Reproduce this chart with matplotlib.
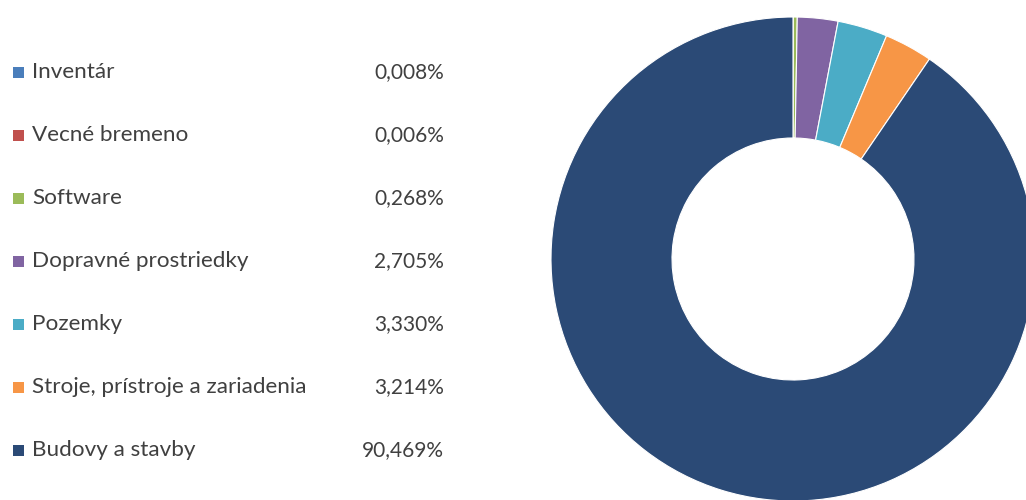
import matplotlib
matplotlib.use("Agg")
import matplotlib.pyplot as plt
from matplotlib.patches import Rectangle

categories = ["Inventár", "Vecné bremeno", "Software", "Dopravné prostriedky",
              "Pozemky", "Stroje, prístroje a zariadenia", "Budovy a stavby"]
values = [0.008, 0.006, 0.268, 2.705, 3.330, 3.214, 90.469]
value_labels = ["0,008%", "0,006%", "0,268%", "2,705%", "3,330%", "3,214%", "90,469%"]
colors = ["#4a7ebb", "#c0504d", "#9bbb59", "#8064a2", "#4bacc6", "#f79646", "#2b4a76"]

W, H = 1026, 500
fig = plt.figure(figsize=(W / 100, H / 100), dpi=100)
ax = fig.add_axes([0, 0, 1, 1])

cx, cy, R = 793, 259, 242
ax.pie(values, colors=colors, startangle=90, counterclock=False,
       center=(cx, H - cy), radius=R, frame=True,
       wedgeprops=dict(width=R * 0.5, edgecolor="white", linewidth=0.8))
ax.set_xlim(0, W)
ax.set_ylim(0, H)
ax.set_aspect("equal")
ax.axis("off")

row0, step = 72, 63
for i, (lab, vl, col) in enumerate(zip(categories, value_labels, colors)):
    y = H - (row0 + i * step)
    ax.add_patch(Rectangle((13, y - 6), 11, 11, facecolor=col, edgecolor="none"))
    ax.text(32, y, lab, fontsize=16.2, color="#404040", va="center", ha="left",
            family="Lato")
    ax.text(444, y, vl, fontsize=15, color="#404040", va="center", ha="right",
            family="Lato")

fig.savefig("out.png", dpi=100)
